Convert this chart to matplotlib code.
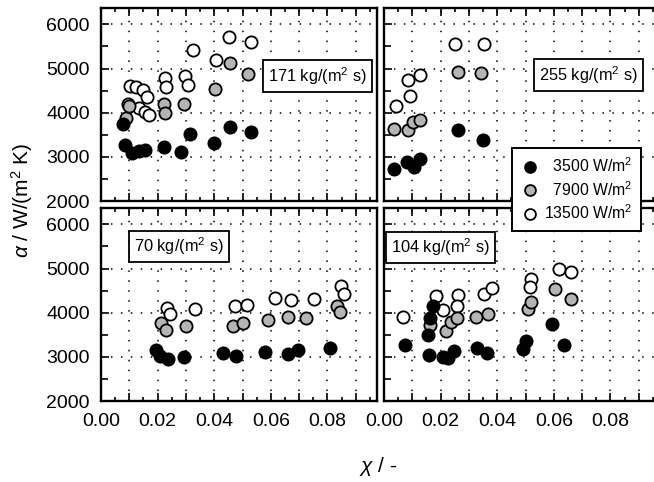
import matplotlib
matplotlib.use("Agg")
import matplotlib.pyplot as plt
from matplotlib.ticker import MultipleLocator

plt.rcParams['font.family'] = ['Liberation Sans', 'DejaVu Sans']
plt.rcParams['mathtext.fontset'] = 'custom'
plt.rcParams['mathtext.rm'] = 'Liberation Sans'
plt.rcParams['mathtext.it'] = 'Liberation Sans:italic'

# mass flux per panel
panel_labels = ['171 kg/(m$^2$ s)', '255 kg/(m$^2$ s)', '70 kg/(m$^2$ s)', '104 kg/(m$^2$ s)']
flux_labels = ['3500 W/m$^2$', '7900 W/m$^2$', '13500 W/m$^2$']
x_ticks = [0.0, 0.01, 0.02, 0.03, 0.04, 0.05, 0.06, 0.07, 0.08, 0.09]
x_ticklabels = ['0.00', '', '0.02', '', '0.04', '', '0.06', '', '0.08', '']
y_ticks = [2000, 3000, 4000, 5000, 6000]

# --- 171 kg/(m2 s) ---
x171_q35 = [0.0085, 0.0077, 0.0110, 0.0134, 0.0157, 0.0221, 0.0284, 0.0314, 0.0400, 0.0456, 0.0529]
a171_q35 = [3270, 3740, 3095, 3140, 3155, 3230, 3115, 3515, 3305, 3670, 3570]
x171_q79 = [0.0089, 0.0100, 0.0221, 0.0225, 0.0292, 0.0402, 0.0456, 0.0521]
a171_q79 = [3870, 4150, 4195, 4000, 4195, 4530, 5115, 4875]
x171_q135 = [0.0103, 0.0124, 0.0148, 0.0162, 0.0095, 0.0136, 0.0154, 0.0169, 0.0225,
             0.0231, 0.0296, 0.0308, 0.0325, 0.0408, 0.0453, 0.0529]
a171_q135 = [4605, 4575, 4515, 4360, 4195, 4100, 4025, 3945, 4775,
             4575, 4830, 4625, 5420, 5190, 5720, 5590]

# --- 255 kg/(m2 s) ---
x255_q35 = [0.0034, 0.0081, 0.0105, 0.0126, 0.0262, 0.0349]
a255_q35 = [2720, 2885, 2775, 2945, 3600, 3375]
x255_q79 = [0.0037, 0.0085, 0.0102, 0.0128, 0.0262, 0.0343]
a255_q79 = [3620, 3600, 3785, 3845, 4925, 4895]
x255_q135 = [0.0043, 0.0085, 0.0128, 0.0093, 0.0250, 0.0354]
a255_q135 = [4160, 4740, 4850, 4370, 5565, 5565]

# --- 70 kg/(m2 s) ---
x70_q35 = [0.0193, 0.0207, 0.0237, 0.0292, 0.0432, 0.0477, 0.0580, 0.0660, 0.0695, 0.0808]
a70_q35 = [3150, 3015, 2940, 3000, 3090, 3015, 3115, 3060, 3165, 3190]
x70_q79 = [0.0213, 0.0228, 0.0302, 0.0465, 0.0500, 0.0589, 0.0660, 0.0725, 0.0834, 0.0844]
a70_q79 = [3755, 3605, 3695, 3695, 3770, 3830, 3905, 3870, 4150, 4020]
x70_q135 = [0.0233, 0.0243, 0.0331, 0.0473, 0.0517, 0.0615, 0.0671, 0.0751, 0.0849, 0.0858]
a70_q135 = [4110, 3965, 4075, 4150, 4170, 4335, 4285, 4320, 4600, 4420]

# --- 104 kg/(m2 s) ---
x104_q35 = [0.0073, 0.0159, 0.0156, 0.0164, 0.0173, 0.0207, 0.0227, 0.0247,
            0.0330, 0.0365, 0.0490, 0.0502, 0.0594, 0.0637]
a104_q35 = [3260, 3035, 3485, 3890, 4160, 3005, 2980, 3130,
            3210, 3080, 3185, 3360, 3735, 3260]
x104_q79 = [0.0164, 0.0218, 0.0238, 0.0259, 0.0325, 0.0369, 0.0507, 0.0519, 0.0603, 0.0662]
a104_q79 = [3710, 3585, 3790, 3885, 3910, 3960, 4075, 4240, 4545, 4315]
x104_q135 = [0.0067, 0.0185, 0.0209, 0.0262, 0.0259, 0.0353, 0.0380, 0.0519, 0.0517, 0.0617, 0.0659]
a104_q135 = [3910, 4375, 4060, 4390, 4150, 4415, 4565, 4755, 4590, 4980, 4920]

panel_data = [
    [(x171_q35, a171_q35), (x171_q79, a171_q79), (x171_q135, a171_q135)],
    [(x255_q35, a255_q35), (x255_q79, a255_q79), (x255_q135, a255_q135)],
    [(x70_q35, a70_q35), (x70_q79, a70_q79), (x70_q135, a70_q135)],
    [(x104_q35, a104_q35), (x104_q79, a104_q79), (x104_q135, a104_q135)],
]

face_colors = ['black', '#b5b5b5', 'white']
draw_order = [2, 1, 0]

W, H = 654, 482
fig = plt.figure(figsize=(W / 100, H / 100), dpi=100)

# axes rectangles in pixels: left, top, right, bottom
rects = [(101, 8, 377, 201), (384, 8, 660, 201),
         (101, 208, 377, 401), (384, 208, 660, 401)]
label_pos = [(0.784, 0.648), (0.74, 0.653), (0.282, 0.80), (0.204, 0.795)]

for i, (l, t, r, b) in enumerate(rects):
    ax = fig.add_axes([l / W, 1 - b / H, (r - l) / W, (b - t) / H])
    ax.set_xlim(0, 0.0975)
    ax.set_ylim(2000, 6370)
    ax.set_xticks(x_ticks)
    ax.set_xticklabels(x_ticklabels)
    ax.xaxis.set_minor_locator(MultipleLocator(0.005))
    ax.set_yticks(y_ticks)
    ax.yaxis.set_minor_locator(MultipleLocator(500))
    ax.tick_params(which='both', direction='in', top=True, bottom=True, left=True, right=False,
                   width=1.2, labelsize=14)
    ax.tick_params(which='major', length=6)
    ax.tick_params(which='minor', length=5)
    ax.tick_params(axis='x', which='minor', length=3)
    ax.tick_params(axis='y', pad=8)
    ax.tick_params(axis='x', pad=9)
    for s in ax.spines.values():
        s.set_linewidth(1.7)
    # dotted grid every 0.01 and every 1000
    for gx in x_ticks[1:]:
        ax.axvline(gx, color='black', lw=1.1, ls=(0, (1, 5.5)), zorder=0)
    for gy in y_ticks[1:]:
        ax.axhline(gy, color='black', lw=1.1, ls=(0, (1, 5.5)), zorder=0)

    for j in draw_order:
        xs, ys = panel_data[i][j]
        ax.plot(xs, ys, 'o', ms=8.8, mfc=face_colors[j], mec='black', mew=1.3,
                zorder=3 + (2 - j))

    ax.text(label_pos[i][0], label_pos[i][1], panel_labels[i], transform=ax.transAxes,
            ha='center', va='center', fontsize=11.8, zorder=6,
            bbox=dict(boxstyle='square,pad=0.3', fc='white', ec='black', lw=1.3))

    if i < 2:
        ax.tick_params(axis='x', labelbottom=False)
    if i in (1, 3):
        ax.tick_params(axis='y', labelleft=False)

# legend spanning both right panels
handles = [plt.Line2D([], [], ls='none', marker='o', ms=7.8, mfc=face_colors[j], mec='black', mew=1.3)
           for j in range(3)]
leg_labels = ['\u2007' + flux_labels[0], '\u2007' + flux_labels[1], flux_labels[2]]
leg = fig.legend(handles, leg_labels, loc='upper left', bbox_to_anchor=(512 / W, 1 - 148 / H),
                 fontsize=11.3, frameon=True, fancybox=False, framealpha=1, edgecolor='black',
                 labelspacing=0.3, handletextpad=0.3, borderpad=0.55, handlelength=1.2,
                 borderaxespad=0)
leg.get_frame().set_linewidth(1.4)
leg.set_zorder(10)

fig.text(22 / W, 1 - 200 / H, r'$\alpha$ / W/(m$^2$ K)', rotation=90, ha='center', va='center',
         fontsize=15)
fig.text(378 / W, 1 - 466 / H, r'$\chi$ / -', ha='center', va='center', fontsize=15)

fig.savefig('out.png', dpi=100)
